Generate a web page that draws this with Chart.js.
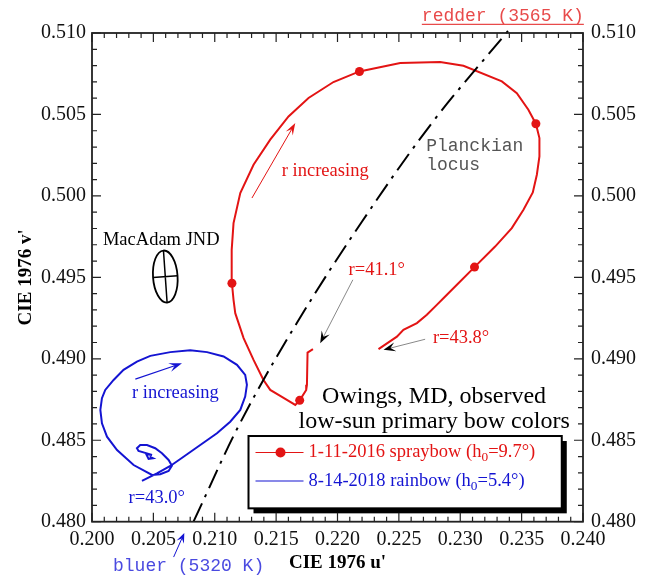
<!DOCTYPE html>
<html><head><meta charset="utf-8">
<script src="https://cdn.jsdelivr.net/npm/chart.js@4"></script>
<style>html,body{margin:0;padding:0;background:#fff}canvas{display:block}</style>
</head><body>
<canvas id="c" width="647" height="575"></canvas>
<script>
// ---------- data (CIE 1976 u', v') ----------
const xTickValues = [0.200,0.205,0.210,0.215,0.220,0.225,0.230,0.235,0.240];
const yTickValues = [0.480,0.485,0.490,0.495,0.500,0.505,0.510];

// 1-11-2016 spraybow, in order of increasing r (41.1° -> 43.8°)
const redU = [0.21800,0.21756,0.21751,0.21745,0.21692,0.21656,0.21547,0.21452,0.21397,0.21316,0.21235,0.21167,0.21153,0.21140,0.21138,0.21153,0.21208,0.21316,0.21452,0.21601,0.21764,0.21967,0.22179,0.22511,0.22836,0.23026,0.23339,0.23461,0.23555,0.23616,0.23645,0.23645,0.23624,0.23591,0.23515,0.23420,0.23284,0.23116,0.22985,0.22863,0.22809,0.22728,0.22647,0.22537,0.22484,0.22334];
const redV = [0.49059,0.49038,0.48840,0.48809,0.48745,0.48717,0.48766,0.48809,0.48870,0.48993,0.49127,0.49280,0.49362,0.49464,0.49669,0.49833,0.50017,0.50191,0.50345,0.50488,0.50601,0.50699,0.50764,0.50816,0.50822,0.50799,0.50703,0.50631,0.50529,0.50443,0.50355,0.50242,0.50130,0.50021,0.49915,0.49802,0.49689,0.49563,0.49464,0.49372,0.49331,0.49270,0.49219,0.49178,0.49136,0.49059];
const redMarkerIdx = [4,13,22,29,37];

// 8-14-2018 rainbow, in order of increasing r (ends at 43.0°)
const blueU = [0.20469,0.20497,0.20461,0.20442,0.20489,0.20379,0.20366,0.20393,0.20448,0.20515,0.20570,0.20624,0.20651,0.20624,0.20556,0.20489,0.20339,0.20204,0.20122,0.20081,0.20068,0.20081,0.20108,0.20176,0.20257,0.20366,0.20475,0.20638,0.20800,0.20937,0.21072,0.21181,0.21248,0.21262,0.21248,0.21208,0.21126,0.21018,0.20882,0.20746,0.20638,0.20529,0.20407];
const blueV = [0.48399,0.48389,0.48385,0.48414,0.48410,0.48434,0.48451,0.48471,0.48471,0.48451,0.48420,0.48379,0.48344,0.48311,0.48291,0.48287,0.48348,0.48440,0.48522,0.48604,0.48686,0.48758,0.48809,0.48870,0.48932,0.48983,0.49018,0.49041,0.49053,0.49041,0.49014,0.48963,0.48901,0.48840,0.48768,0.48686,0.48614,0.48543,0.48471,0.48399,0.48342,0.48297,0.48250];

// Planckian locus (5320 K -> 3565 K)
const locusU = [0.20827,0.21212,0.21676,0.22200,0.22779,0.23393];
const locusV = [0.48000,0.48614,0.49229,0.49843,0.50457,0.51016];

const seriesLabels = ['1-11-2016 spraybow', '8-14-2018 rainbow'];

// ---------- styles ----------
const RED = '#e31414', BLUE = '#1414d2';
const SERIF = "'Liberation Serif','Times New Roman',serif";
const MONO = "'Liberation Mono','Courier New',monospace";

const zip = (a,b) => a.map((x,i)=>({x:x, y:b[i]}));

function arrow(ctx,x1,y1,x2,y2,lineColor,headColor,lw,hl,hw){
  ctx.save();
  const a = Math.atan2(y2-y1,x2-x1);
  ctx.strokeStyle = lineColor; ctx.lineWidth = lw;
  ctx.beginPath(); ctx.moveTo(x1,y1);
  ctx.lineTo(x2-Math.cos(a)*hl*0.6, y2-Math.sin(a)*hl*0.6); ctx.stroke();
  ctx.fillStyle = headColor;
  ctx.translate(x2,y2); ctx.rotate(a);
  ctx.beginPath(); ctx.moveTo(0,0); ctx.lineTo(-hl,-hw); ctx.lineTo(-hl*0.6,0); ctx.lineTo(-hl,hw); ctx.closePath(); ctx.fill();
  ctx.restore();
}

function subText(ctx,x,y,parts,size,color){
  ctx.save(); ctx.fillStyle = color; ctx.textAlign='left'; ctx.textBaseline='middle';
  let cx = x;
  for (const [t,sub] of parts){
    ctx.font = (sub? (size*0.72):size) + 'px ' + SERIF;
    ctx.fillText(t, cx, sub ? y+5 : y);
    cx += ctx.measureText(t).width;
  }
  ctx.restore();
}

const notes = [
  {t:'MacAdam JND', u:0.20564, v:0.49730, al:'center', c:'#000', f:'18.5px '+SERIF},
  {t:'r increasing', u:0.21900, v:0.50150, al:'center', c:RED, f:'18.5px '+SERIF},
  {t:'Planckian', u:0.22722, v:0.50303, al:'left', c:'#555', f:'18px '+MONO},
  {t:'locus', u:0.22722, v:0.50191, al:'left', c:'#555', f:'18px '+MONO},
  {t:'r=41.1°', u:0.22090, v:0.49546, al:'left', c:RED, f:'18.5px '+SERIF},
  {t:'r=43.8°', u:0.22777, v:0.49127, al:'left', c:RED, f:'18.5px '+SERIF},
  {t:'r increasing', u:0.20326, v:0.48789, al:'left', c:BLUE, f:'18.5px '+SERIF},
  {t:'r=43.0°', u:0.20298, v:0.48144, al:'left', c:BLUE, f:'18.5px '+SERIF},
  {t:'Owings, MD, observed', u:0.22787, v:0.48768, al:'center', c:'#000', f:'24px '+SERIF},
  {t:'low-sun primary bow colors', u:0.22787, v:0.48614, al:'center', c:'#000', f:'24px '+SERIF},
  {t:'redder (3565 K)', u:0.22687, v:0.51102, al:'left', c:'#e84a4a', f:'18px '+MONO, ul:true},
  {t:'bluer (5320 K)', u:0.20171, v:0.47724, al:'left', c:'#4a4ae0', f:'18px '+MONO}
];
const arrows = [
  {u1:0.21303,v1:0.49987,u2:0.21656,v2:0.50447, lc:RED, hc:RED, lw:1, hl:12, hw:4},
  {u1:0.22125,v1:0.49485,u2:0.21859,v2:0.49096, lc:'#888', hc:'#000', lw:1, hl:12, hw:4.5},
  {u1:0.22714,v1:0.49120,u2:0.22375,v2:0.49055, lc:'#888', hc:'#000', lw:1, hl:12, hw:4.5},
  {u1:0.20353,v1:0.48875,u2:0.20733,v2:0.48973, lc:BLUE, hc:BLUE, lw:1.2, hl:13, hw:4.5},
  {u1:0.20665,v1:0.47783,u2:0.20752,v2:0.47931, lc:BLUE, hc:BLUE, lw:1, hl:10, hw:4}
];
const ellipse = {u:0.20597, v:0.49505, du:0.00100, dv:0.00160, rot:-0.07};
const legendBox = {u1:0.21275, v1:0.48526, u2:0.23827, v2:0.48082};

const annot = {
  id:'annot',
  afterDatasetsDraw(chart){
    const ctx = chart.ctx, X = chart.scales.x, Y = chart.scales.y;
    const px = u => X.getPixelForValue(u), py = v => Y.getPixelForValue(v);
    // MacAdam ellipse
    ctx.save();
    const ex = px(ellipse.u), ey = py(ellipse.v);
    const rx = px(ellipse.u+ellipse.du)-ex, ry = ey-py(ellipse.v+ellipse.dv);
    ctx.translate(ex,ey); ctx.rotate(ellipse.rot);
    ctx.strokeStyle='#000'; ctx.lineWidth=1.8;
    ctx.beginPath(); ctx.ellipse(0,0,rx,ry,0,0,Math.PI*2); ctx.stroke();
    ctx.lineWidth=1.5;
    ctx.beginPath(); ctx.moveTo(0,-ry); ctx.lineTo(0,ry); ctx.moveTo(-rx,0); ctx.lineTo(rx,0); ctx.stroke();
    ctx.restore();
    // arrows
    for (const a of arrows) arrow(ctx,px(a.u1),py(a.v1),px(a.u2),py(a.v2),a.lc,a.hc,a.lw,a.hl,a.hw);
    // texts
    for (const n of notes){
      ctx.save(); ctx.font=n.f; ctx.fillStyle=n.c; ctx.textAlign=n.al; ctx.textBaseline='middle';
      const x=px(n.u), y=py(n.v);
      ctx.fillText(n.t,x,y);
      if (n.ul){ const w=ctx.measureText(n.t).width; ctx.strokeStyle=n.c; ctx.lineWidth=1.2;
        ctx.beginPath(); ctx.moveTo(x,y+8); ctx.lineTo(x+w,y+8); ctx.stroke(); }
      ctx.restore();
    }
    // legend
    const lx1=px(legendBox.u1), ly1=py(legendBox.v1), lx2=px(legendBox.u2), ly2=py(legendBox.v2);
    ctx.save();
    ctx.fillStyle='#000'; ctx.fillRect(lx1+5,ly1+5,lx2-lx1,ly2-ly1);
    ctx.fillStyle='#fff'; ctx.fillRect(lx1,ly1,lx2-lx1,ly2-ly1);
    ctx.strokeStyle='#000'; ctx.lineWidth=2; ctx.strokeRect(lx1,ly1,lx2-lx1,ly2-ly1);
    const r1=ly1+16.5, r2=ly1+45;
    ctx.strokeStyle=RED; ctx.lineWidth=1.2; ctx.beginPath(); ctx.moveTo(lx1+7,r1); ctx.lineTo(lx1+55,r1); ctx.stroke();
    ctx.fillStyle=RED; ctx.beginPath(); ctx.arc(lx1+32,r1,5,0,Math.PI*2); ctx.fill();
    ctx.strokeStyle=BLUE; ctx.beginPath(); ctx.moveTo(lx1+7,r2); ctx.lineTo(lx1+55,r2); ctx.stroke();
    ctx.restore();
    subText(ctx,lx1+60,r1,[[seriesLabels[0]+' (h',false],['0',true],['=9.7°)',false]],18.5,RED);
    subText(ctx,lx1+60,r2,[[seriesLabels[1]+' (h',false],['0',true],['=5.4°)',false]],18.5,BLUE);
  },
  afterDraw(chart){
    const ctx = chart.ctx, X = chart.scales.x, Y = chart.scales.y, a = chart.chartArea;
    ctx.save();
    ctx.strokeStyle='#222'; ctx.lineWidth=1.8;
    ctx.strokeRect(a.left,a.top,a.right-a.left,a.bottom-a.top);
    ctx.lineWidth=1.2;
    ctx.beginPath();
    for (let i=0;i<=40;i++){
      const x = X.getPixelForValue(0.2+i*0.001), L = (i%5===0)?9:5;
      ctx.moveTo(x,a.bottom); ctx.lineTo(x,a.bottom-L);
      ctx.moveTo(x,a.top); ctx.lineTo(x,a.top+L);
    }
    for (let i=0;i<=30;i++){
      const y = Y.getPixelForValue(0.48+i*0.001), L = (i%5===0)?9:5;
      ctx.moveTo(a.left,y); ctx.lineTo(a.left+L,y);
      ctx.moveTo(a.right,y); ctx.lineTo(a.right-L,y);
    }
    ctx.stroke();
    ctx.restore();
  }
};

const tickFont = {family:SERIF, size:20};
const titleFont = {family:SERIF, size:19, weight:'bold'};

new Chart(document.getElementById('c'), {
  type:'scatter',
  data:{ datasets:[
    {label:'Planckian locus', data:zip(locusU,locusV), showLine:true, borderColor:'#000', borderWidth:2,
     borderDash:[20,7,3,7], pointRadius:0, clip:false, tension:0.35},
    {label:seriesLabels[1], data:zip(blueU,blueV), showLine:true, borderColor:BLUE, borderWidth:2, pointRadius:0},
    {label:seriesLabels[0], data:zip(redU,redV), showLine:true, borderColor:RED, borderWidth:2,
     pointRadius:c=>redMarkerIdx.includes(c.dataIndex)?4.5:0, pointBackgroundColor:RED, pointBorderWidth:0}
  ]},
  options:{
    responsive:false, animation:false, devicePixelRatio:1,
    layout:{padding:{top:33,left:0,right:0,bottom:0}},
    plugins:{legend:{display:false}, tooltip:{enabled:false}},
    scales:{
      x:{type:'linear', position:'bottom', min:0.2, max:0.24,
         afterBuildTicks:s=>{s.ticks=xTickValues.map(v=>({value:v}));},
         afterFit:s=>{s.height=53.3;},
         ticks:{callback:v=>v.toFixed(3), font:tickFont, color:'#111', padding:6, maxRotation:0, autoSkip:false},
         grid:{display:false, drawTicks:false}, border:{display:false},
         title:{display:true, text:"CIE 1976 u'", font:titleFont, color:'#000', padding:{top:0,bottom:1}}},
      y:{type:'linear', position:'left', min:0.48, max:0.51,
         afterBuildTicks:s=>{s.ticks=yTickValues.map(v=>({value:v}));},
         afterFit:s=>{s.width=92;},
         ticks:{callback:v=>v.toFixed(3), font:tickFont, color:'#111', padding:6, autoSkip:false},
         grid:{display:false, drawTicks:false}, border:{display:false},
         title:{display:true, text:"CIE 1976 v'", font:titleFont, color:'#000', padding:{top:15,bottom:0}}},
      y2:{type:'linear', position:'right', min:0.48, max:0.51,
         afterBuildTicks:s=>{s.ticks=yTickValues.map(v=>({value:v}));},
         afterFit:s=>{s.width=64;},
         ticks:{callback:v=>v.toFixed(3), font:tickFont, color:'#111', padding:8, autoSkip:false},
         grid:{display:false, drawTicks:false}, border:{display:false}}
    }
  },
  plugins:[annot]
});
</script>
</body></html>
